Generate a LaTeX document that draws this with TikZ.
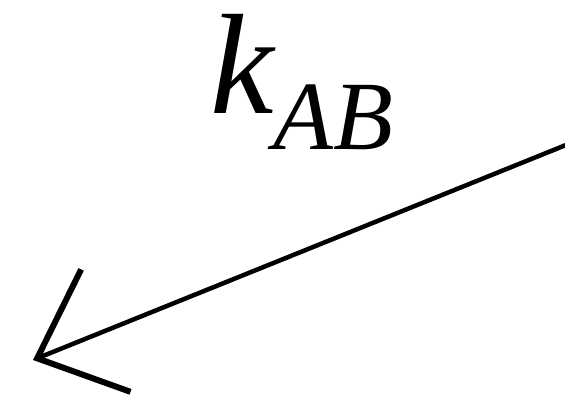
\documentclass[tikz,border=0pt]{standalone}
\usepackage{fontspec}
\setmainfont{Liberation Serif}
\usetikzlibrary{arrows.meta}

\begin{document}
\begin{tikzpicture}[x=1pt, y=1pt]
        \useasboundingbox (0,0) rectangle (565,407);
        \node[inner sep=0pt, anchor=base west] (rate) at (210,293)
            {\fontsize{143}{143}\selectfont\itshape k\raisebox{-36pt}{\fontsize{98}{98}\selectfont AB}};
        \coordinate (from) at (566,262);
        \coordinate (tip) at (33,47);
        \draw[line width=4.5pt, line cap=round,
              -{Straight Barb[length=74pt, width=132pt, line width=6pt]}] (from) -- (tip);
    \end{tikzpicture}
\end{document}
